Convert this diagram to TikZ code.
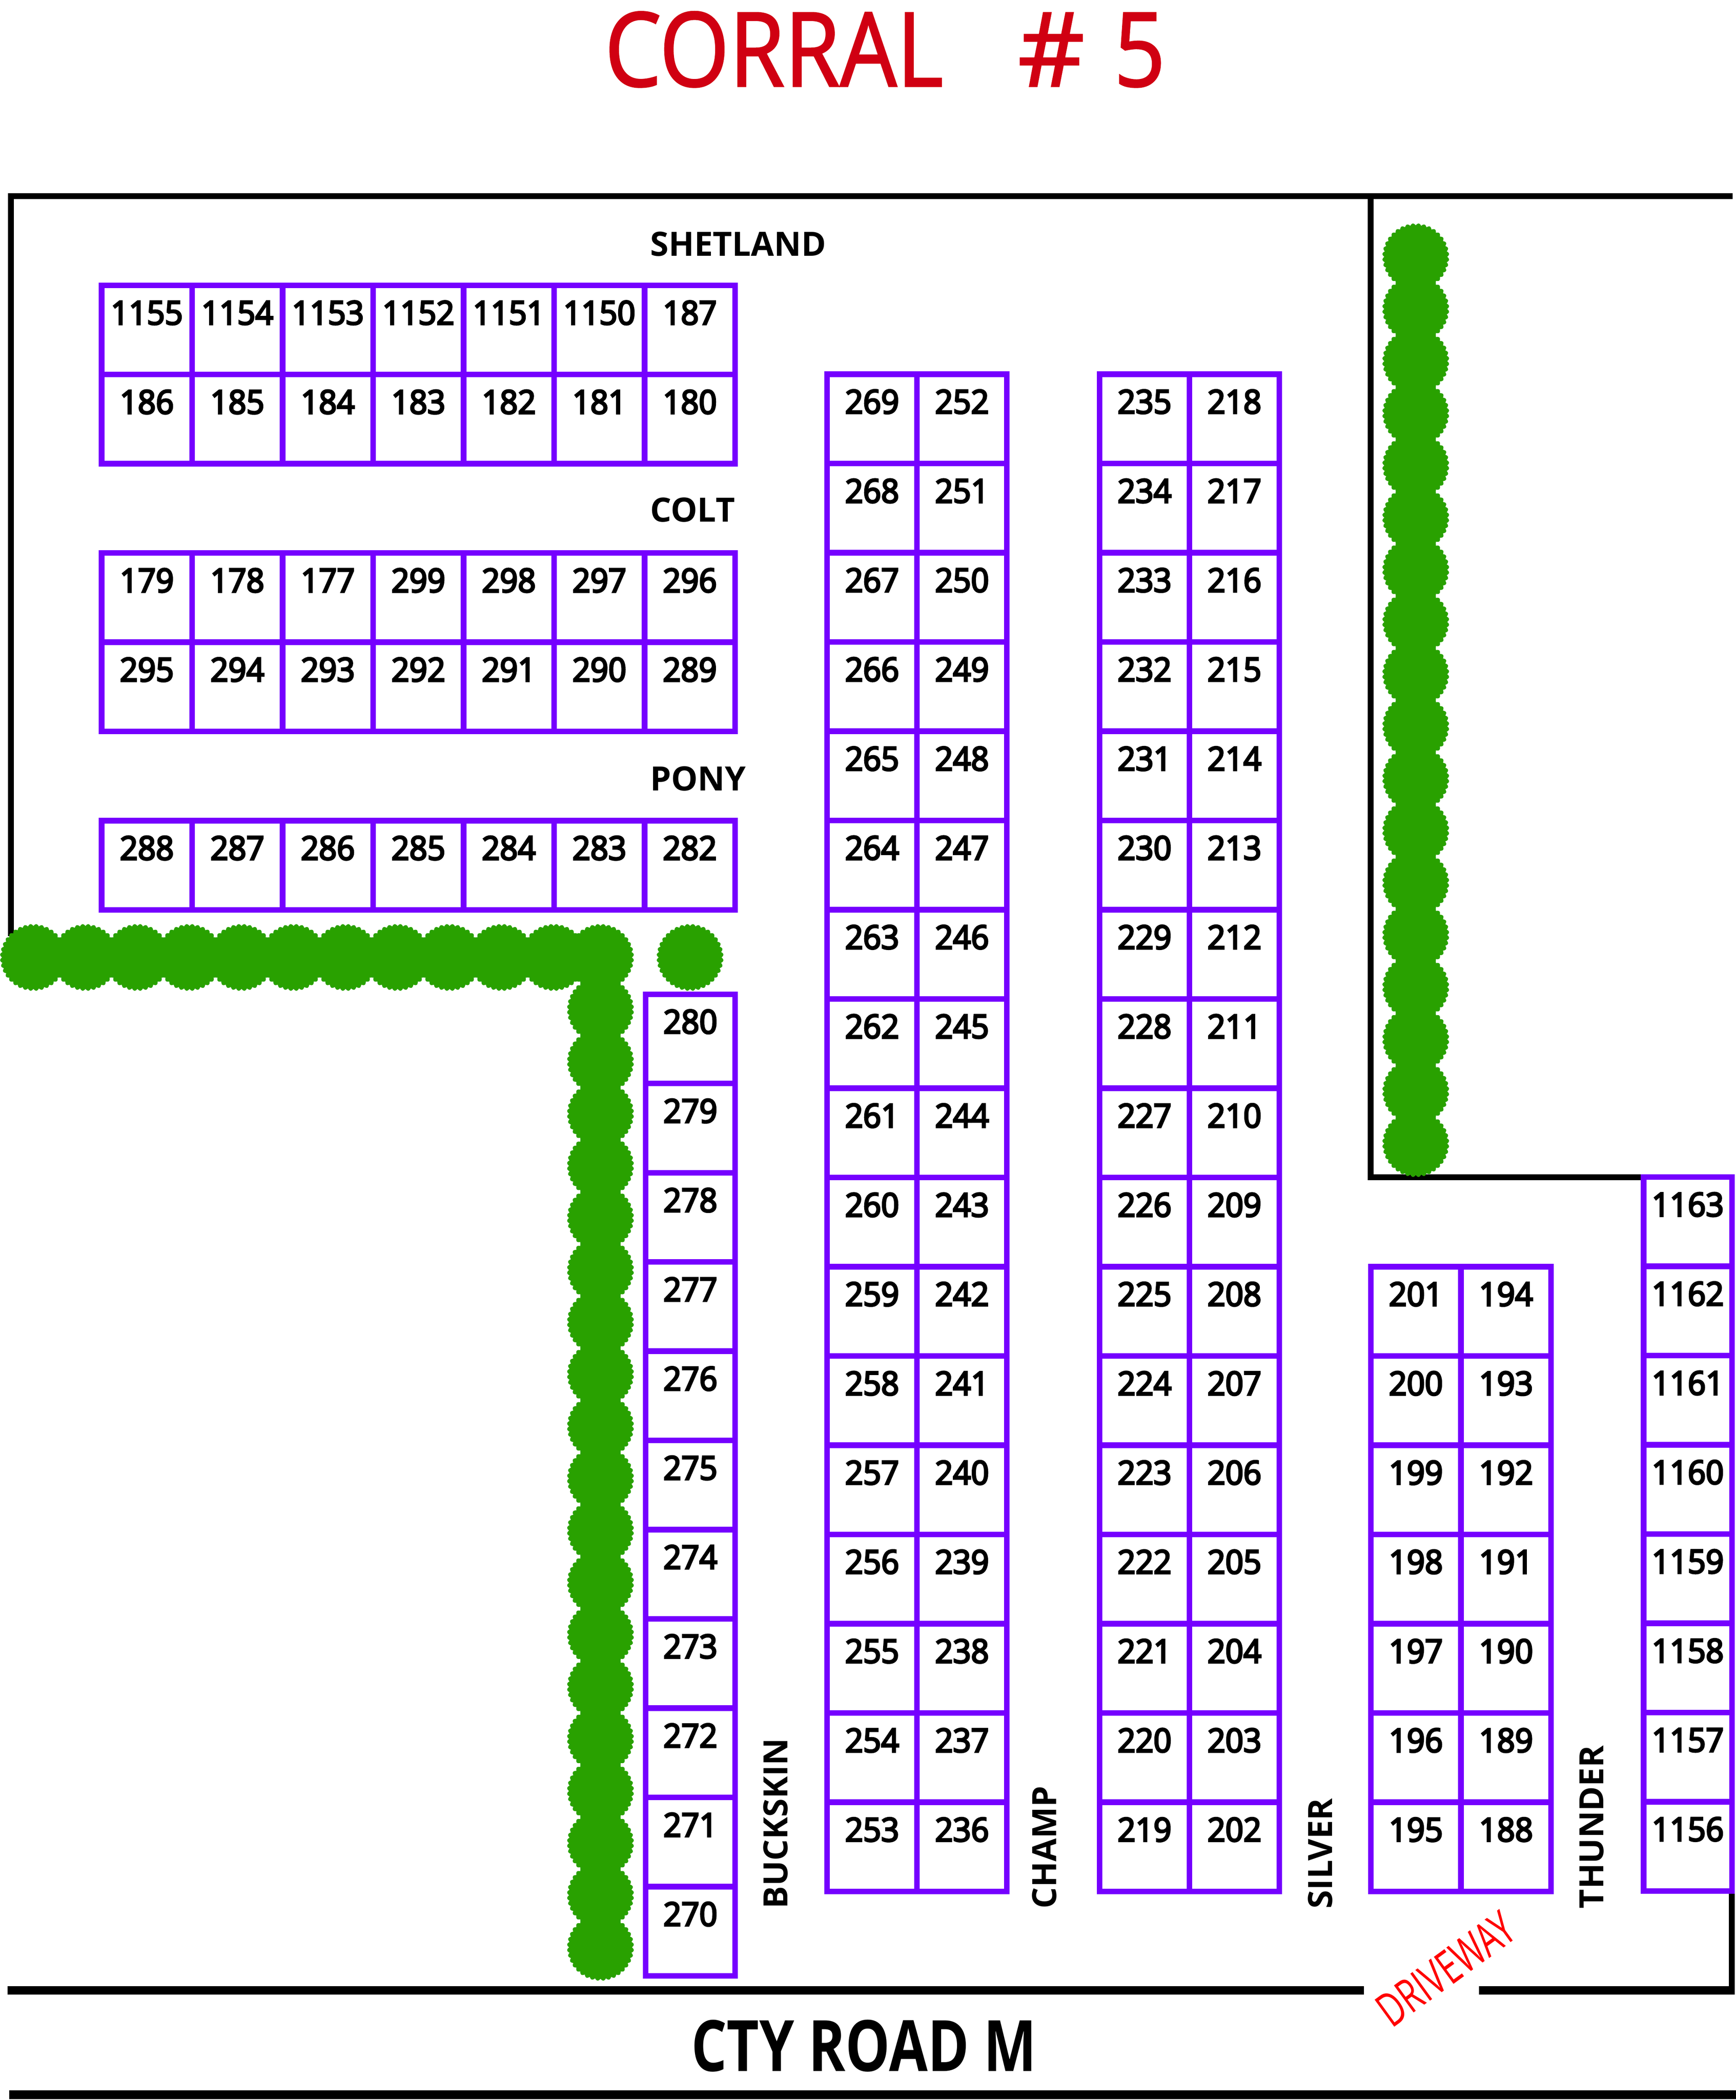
\documentclass[tikz,border=0pt]{standalone}
\usepackage{fontspec}
\setmainfont{Open Sans}
\newfontfamily\numfont[FakeBold=5, FakeStretch=0.96]{Open Sans}
\newfontfamily\titlefont[FakeStretch=0.87, FakeBold=1.5]{Open Sans}
\newfontfamily\roadfont[FakeStretch=0.79]{Open Sans}
\newfontfamily\drivefont[FakeStretch=0.7]{Open Sans}
\usepackage{xcolor}
\usepackage{tikz}

\definecolor{boxpurple}{RGB}{117,0,255}
\definecolor{treegreen}{RGB}{41,161,0}
\definecolor{titlered}{RGB}{208,0,18}

\tikzset{
  stall/.style={draw=boxpurple, line width=4.2pt},
  num/.style={font=\numfont\fontsize{24.5}{28}\selectfont, inner sep=0pt, anchor=base},
  rowlabel/.style={font=\bfseries\fontsize{25}{30}\selectfont, inner sep=0pt, anchor=base west},
  fence/.style={line width=4.4pt},
  road/.style={line width=6.5pt},
  tree/.pic={\fill[treegreen] plot[domain=0:360, samples=217, variable=\t] (\t:{23.5+1.5*abs(sin(18*\t))}) -- cycle;}
}

\begin{document}
\begin{tikzpicture}[x=1pt, y=-1pt]
  \useasboundingbox (0,0) rectangle (1298,1570);

  % fences and road
  \draw[fence] (8.3,700) -- (8.3,146.5) -- (1295.5,146.5);
  \draw[fence] (1025,146.5) -- (1025,880) -- (1229,880);
  \draw[fence] (1295,1414) -- (1295,1488);
  \draw[road] (5.7,1488) -- (1020,1488);
  \draw[road] (1106,1488) -- (1297.2,1488);
  \draw[road] (7,1566) -- (1298,1566);

  % trees
  \foreach \k in {0,...,10} \pic at ({25+38.9*\k},715.8) {tree};
  \foreach \k in {0,...,19} \pic at (449,{715.8+38.95*\k}) {tree};
  \pic at (516,715.8) {tree};
  \foreach \k in {0,...,17} \pic at (1058.6,{192+39*\k}) {tree};

  % stalls in rows
  \foreach \top/\list in {213.3/{1155,1154,1153,1152,1151,1150,187},
                          280/{186,185,184,183,182,181,180},
                          413.4/{179,178,177,299,298,297,296},
                          480.1/{295,294,293,292,291,290,289},
                          613.5/{288,287,286,285,284,283,282}} {
    \foreach \n [count=\k from 0] in \list {
      \draw[stall] ({76+67.67*\k},\top) rectangle ++(67.67,66.7);
      \node[num] (n\n) at ({109.8+67.67*\k},{\top+29.3}) {\n};
    }
  }

  % stalls in columns
  \foreach \x/\w/\top/\first/\rows in {482.8/66.8/743.3/280/11,
                                       618.5/67.2/279.8/269/17, 685.7/67.2/279.8/252/17,
                                       822.2/67.2/279.8/235/17, 889.4/67.2/279.8/218/17,
                                       1025/67.4/947/201/7, 1092.4/67.4/947/194/7,
                                       1229/66/880/1163/8} {
    \foreach \k in {1,...,\rows} {
      \pgfmathtruncatemacro\n{\first-\k+1}
      \draw[stall] (\x,{\top+66.72*(\k-1)}) rectangle ++(\w,66.72);
      \node[num] (n\n) at ({\x+\w/2},{\top+66.72*(\k-1)+29.3}) {\n};
    }
  }

  % names
  \node[rowlabel] (shetland) at (486,191.5) {SHETLAND};
  \node[rowlabel] (colt) at (486,390) {COLT};
  \node[rowlabel] (pony) at (486,591) {PONY};
  \node[rowlabel, rotate=90] (buckskin) at (589,1427) {BUCKSKIN};
  \node[rowlabel, rotate=90] (champ) at (790,1427) {CHAMP};
  \node[rowlabel, rotate=90] (silver) at (996,1427) {SILVER};
  \node[rowlabel, rotate=90] (thunder) at (1199,1427) {THUNDER};

  \node[font=\titlefont\fontsize{77}{90}\selectfont, text=titlered, inner sep=0pt, anchor=base west] (title) at (452,64.5) {CORRAL\hspace{56pt}\scalebox{1.15}[1]{\#}\hspace{22pt}5};
  \node[font=\roadfont\bfseries\fontsize{53}{60}\selectfont, inner sep=0pt, anchor=base] (cty) at (646,1548.5) {CTY ROAD M};
  \node[font=\drivefont\fontsize{35}{38}\selectfont, text=red, rotate=36, inner sep=0pt] (driveway) at (1081,1472) {DRIVEWAY};
\end{tikzpicture}
\end{document}
